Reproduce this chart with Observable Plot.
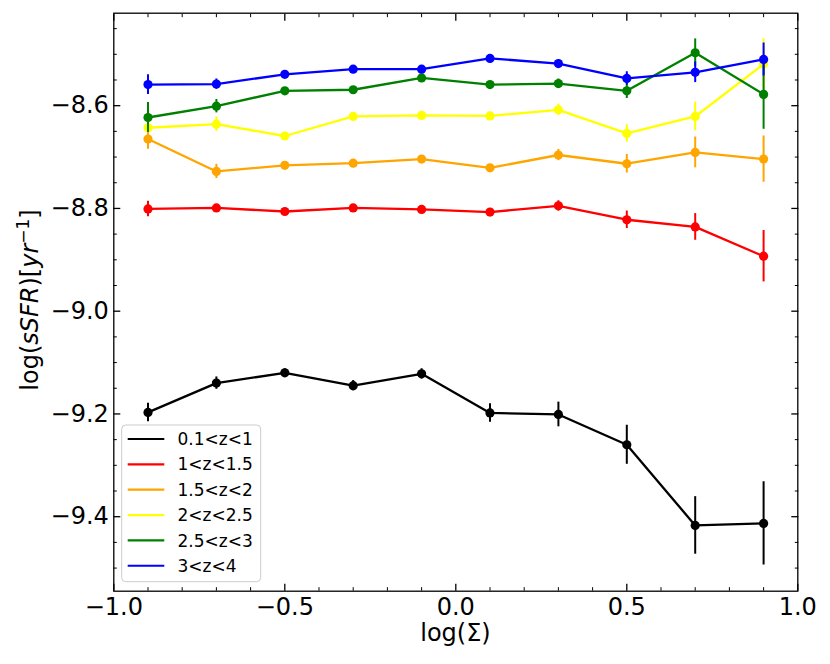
<!DOCTYPE html>
<html><head><meta charset="utf-8">
<script src="https://cdn.jsdelivr.net/npm/d3@7"></script>
<script src="https://cdn.jsdelivr.net/npm/@observablehq/plot@0.6"></script>
<style>body{margin:0;background:#fff;} #chart{position:relative;width:830px;height:664px;}</style>
</head><body><div id="chart"></div>
<script>
const xVals = [-0.9, -0.7, -0.5, -0.3, -0.1, 0.1, 0.3, 0.5, 0.7, 0.9];
const seriesNames = ["0.1<z<1", "1<z<1.5", "1.5<z<2", "2<z<2.5", "2.5<z<3", "3<z<4"];
const seriesColors = ["#000000", "#ff0000", "#ffa500", "#ffff00", "#008000", "#0000ff"];

const yZ01 = [-9.197, -9.140, -9.120, -9.145, -9.122, -9.198, -9.201, -9.260, -9.417, -9.413];
const eZ01 = [0.018, 0.012, 0.008, 0.010, 0.010, 0.018, 0.024, 0.038, 0.056, 0.081];
const yZ1 = [-8.801, -8.799, -8.806, -8.799, -8.802, -8.807, -8.795, -8.822, -8.836, -8.893];
const eZ1 = [0.015, 0.006, 0.006, 0.006, 0.006, 0.006, 0.010, 0.017, 0.026, 0.050];
const yZ15 = [-8.665, -8.728, -8.716, -8.712, -8.704, -8.721, -8.696, -8.713, -8.691, -8.704];
const eZ15 = [0.020, 0.014, 0.006, 0.006, 0.006, 0.006, 0.011, 0.018, 0.030, 0.045];
const yZ2 = [-8.643, -8.636, -8.659, -8.621, -8.619, -8.620, -8.608, -8.654, -8.621, -8.519];
const eZ2 = [0.008, 0.014, 0.007, 0.006, 0.006, 0.006, 0.011, 0.017, 0.028, 0.049];
const yZ25 = [-8.623, -8.601, -8.571, -8.569, -8.546, -8.559, -8.557, -8.571, -8.497, -8.578];
const eZ25 = [0.029, 0.013, 0.006, 0.006, 0.006, 0.006, 0.009, 0.015, 0.027, 0.068];
const yZ3 = [-8.559, -8.558, -8.539, -8.529, -8.529, -8.508, -8.518, -8.547, -8.535, -8.510];
const eZ3 = [0.019, 0.010, 0.007, 0.006, 0.006, 0.007, 0.007, 0.013, 0.020, 0.032];

const yValues = [yZ01, yZ1, yZ15, yZ2, yZ25, yZ3];
const yErrors = [eZ01, eZ1, eZ15, eZ2, eZ25, eZ3];

const xMajorTicks = [-1, -0.5, 0, 0.5, 1];
const xMinorTicks = [-0.9, -0.8, -0.7, -0.6, -0.4, -0.3, -0.2, -0.1, 0.1, 0.2, 0.3, 0.4, 0.6, 0.7, 0.8, 0.9];
const yMajorTicks = [-9.4, -9.2, -9.0, -8.8, -8.6];
const yMinorTicks = [-9.5, -9.45, -9.35, -9.3, -9.25, -9.15, -9.1, -9.05, -8.95, -8.9, -8.85, -8.75, -8.7, -8.65, -8.55, -8.5, -8.45];
const xDomain = [-1, 1];
const yDomain = [-9.545, -8.42];

const rows = seriesNames.flatMap((name, i) =>
  xVals.map((x, j) => ({name, x, y: yValues[i][j], e: yErrors[i][j]})));

const seriesMarks = seriesNames.flatMap((name, i) => {
  const d = rows.filter(r => r.name === name);
  const c = seriesColors[i];
  return [
    Plot.ruleX(d, {x: "x", y1: r => r.y - r.e, y2: r => r.y + r.e, stroke: c, strokeWidth: 2}),
    Plot.line(d, {x: "x", y: "y", stroke: c, strokeWidth: 2.3}),
    Plot.dot(d, {x: "x", y: "y", r: 4.6, fill: c, stroke: "none"})
  ];
});

const fmt = d3.format(".1f");
const blank = () => "";

const plot = Plot.plot({
  width: 830,
  height: 664,
  marginLeft: 113.3,
  marginRight: 32.7,
  marginTop: 12.7,
  marginBottom: 73.3,
  style: {fontFamily: "DejaVu Sans", fontSize: "24px", background: "white", color: "black"},
  x: {domain: xDomain},
  y: {domain: yDomain},
  marks: [
    ...seriesMarks,
    Plot.frame({stroke: "black", strokeWidth: 1.3}),
    Plot.axisX(xMajorTicks, {anchor: "bottom", tickSize: -7, tickPadding: 13.3, tickFormat: fmt, fontSize: 24, label: null, strokeWidth: 1.3}),
    Plot.axisX(xMinorTicks, {anchor: "bottom", tickSize: -3.5, tickFormat: blank, label: null}),
    Plot.axisX(xMajorTicks, {anchor: "top", tickSize: -7, tickFormat: blank, label: null, strokeWidth: 1.3}),
    Plot.axisX(xMinorTicks, {anchor: "top", tickSize: -3.5, tickFormat: blank, label: null}),
    Plot.axisY(yMajorTicks, {anchor: "left", tickSize: -7, tickPadding: 12, tickFormat: fmt, fontSize: 24, label: null, strokeWidth: 1.3}),
    Plot.axisY(yMinorTicks, {anchor: "left", tickSize: -3.5, tickFormat: blank, label: null}),
    Plot.axisY(yMajorTicks, {anchor: "right", tickSize: -7, tickFormat: blank, label: null, strokeWidth: 1.3}),
    Plot.axisY(yMinorTicks, {anchor: "right", tickSize: -3.5, tickFormat: blank, label: null})
  ]
});

const svg = d3.select(plot);
// x label
svg.append("text").attr("x", 455.5).attr("y", 641).attr("text-anchor", "middle")
  .attr("font-size", 24).attr("fill", "black").text("log(Σ)");
// y label
const yl = svg.append("text").attr("transform", "translate(38,300) rotate(-90)")
  .attr("text-anchor", "middle").attr("font-size", 24).attr("fill", "black");
yl.append("tspan").text("log(");
yl.append("tspan").attr("font-style", "italic").text("sSFR");
yl.append("tspan").text(")[");
yl.append("tspan").attr("font-style", "italic").text("yr");
yl.append("tspan").attr("font-size", 17).attr("dy", "-0.55em").text("−1");
yl.append("tspan").attr("dy", "0.39em").text("]");

// legend
const lg = svg.append("g").attr("text-anchor", "start");
lg.append("rect").attr("x", 121.7).attr("y", 425).attr("width", 139).attr("height", 156.7)
  .attr("rx", 4).attr("fill", "white").attr("fill-opacity", 0.8).attr("stroke", "#cccccc").attr("stroke-width", 1);
seriesNames.forEach((n, i) => {
  const cy = 439 + i * 25.35;
  lg.append("line").attr("x1", 127.7).attr("x2", 164.3).attr("y1", cy).attr("y2", cy)
    .attr("stroke", seriesColors[i]).attr("stroke-width", 2.2);
  lg.append("text").attr("x", 177.5).attr("y", cy).attr("dy", "0.36em").attr("text-anchor", "start")
    .attr("font-size", 17).attr("fill", "black").text(n);
});

document.getElementById("chart").appendChild(plot);
</script>
</body></html>
